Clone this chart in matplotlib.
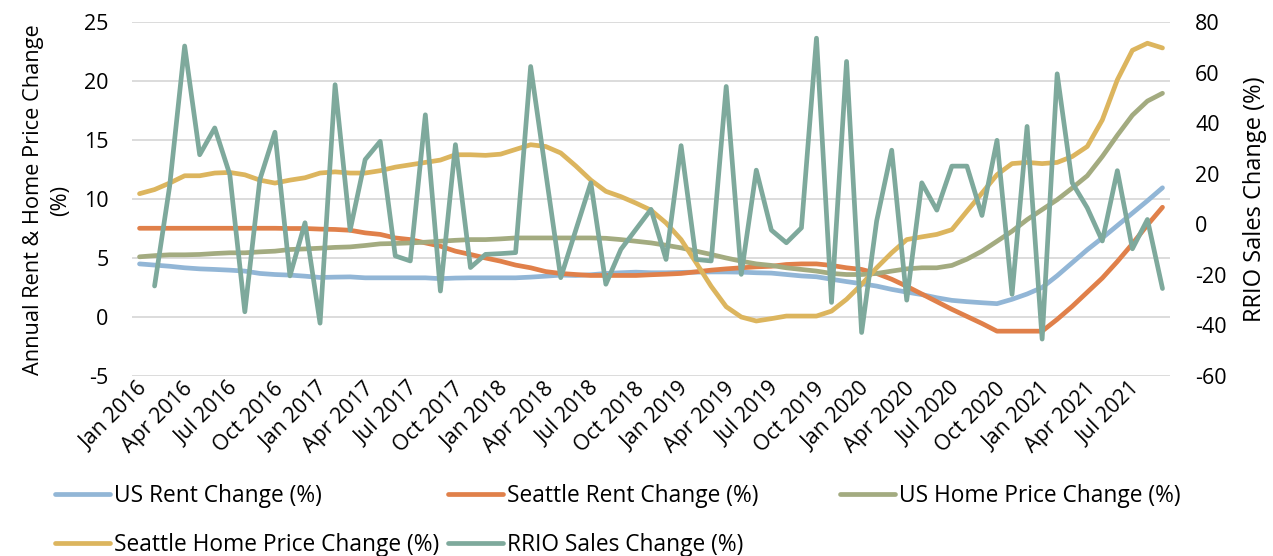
import numpy as np
import matplotlib.pyplot as plt
from matplotlib.transforms import ScaledTranslation

plt.rcParams['font.family'] = ['Open Sans', 'DejaVu Sans']
plt.rcParams['axes.unicode_minus'] = False

month_names = ['Jan', 'Feb', 'Mar', 'Apr', 'May', 'Jun',
               'Jul', 'Aug', 'Sep', 'Oct', 'Nov', 'Dec']
# Jan 2016 .. Sep 2021, monthly
dates = ['%s %d' % (m, y) for y in range(2016, 2022) for m in month_names][:69]

us_rent = [4.5, 4.4, 4.3, 4.17, 4.08, 4.03, 3.97, 3.89, 3.69, 3.6, 3.55, 3.46,
           3.35, 3.38, 3.4, 3.32, 3.32, 3.32, 3.32, 3.32, 3.25, 3.3, 3.32, 3.32,
           3.32, 3.32, 3.38, 3.46, 3.55, 3.52, 3.58, 3.69, 3.75, 3.8, 3.75, 3.75,
           3.78, 3.8, 3.82, 3.82, 3.8, 3.75, 3.72, 3.6, 3.48, 3.41, 3.2, 3.0,
           2.82, 2.62, 2.34, 2.11, 1.9, 1.63, 1.41, 1.3, 1.21, 1.13, 1.5, 1.95,
           2.5, 3.5, 4.6, 5.7, 6.7, 7.75, 8.8, 9.85, 10.95]

seattle_rent = [7.52, 7.52, 7.52, 7.52, 7.52, 7.52, 7.52, 7.52, 7.52, 7.52, 7.5, 7.5,
                7.45, 7.42, 7.35, 7.13, 7.0, 6.7, 6.56, 6.28, 6.0, 5.58, 5.3, 5.0,
                4.73, 4.4, 4.17, 3.85, 3.69, 3.6, 3.52, 3.52, 3.52, 3.52, 3.58, 3.63,
                3.69, 3.83, 3.97, 4.08, 4.17, 4.25, 4.3, 4.45, 4.5, 4.5, 4.37, 4.17,
                4.03, 3.69, 3.2, 2.6, 1.95, 1.3, 0.65, 0.05, -0.55, -1.2, -1.2, -1.2,
                -1.2, -0.2, 0.9, 2.1, 3.3, 4.7, 6.2, 7.8, 9.3]

us_home = [5.1, 5.2, 5.27, 5.27, 5.3, 5.38, 5.44, 5.44, 5.52, 5.58, 5.72, 5.77,
           5.83, 5.9, 5.94, 6.06, 6.2, 6.23, 6.28, 6.34, 6.42, 6.5, 6.56, 6.56,
           6.62, 6.7, 6.7, 6.7, 6.7, 6.7, 6.7, 6.67, 6.56, 6.42, 6.28, 6.08,
           5.86, 5.58, 5.3, 5.0, 4.73, 4.5, 4.37, 4.17, 4.03, 3.89, 3.69, 3.6,
           3.6, 3.69, 3.89, 4.08, 4.17, 4.17, 4.37, 4.9, 5.58, 6.42, 7.27, 8.25,
           9.1, 9.94, 10.93, 11.97, 13.6, 15.4, 17.1, 18.3, 18.96]

seattle_home = [10.45, 10.8, 11.35, 11.97, 11.97, 12.2, 12.25, 12.05, 11.6, 11.35, 11.6, 11.8,
                12.2, 12.3, 12.2, 12.2, 12.4, 12.7, 12.9, 13.1, 13.3, 13.75, 13.75, 13.7,
                13.8, 14.2, 14.6, 14.45, 13.9, 12.8, 11.6, 10.65, 10.2, 9.65, 9.05, 7.97,
                6.56, 4.6, 2.6, 0.87, 0.0, -0.34, -0.14, 0.08, 0.08, 0.08, 0.5, 1.5,
                2.76, 4.17, 5.44, 6.56, 6.79, 7.0, 7.4, 8.96, 10.5, 12.06, 13.0, 13.1,
                13.0, 13.1, 13.6, 14.45, 16.7, 20.1, 22.6, 23.2, 22.8]

# no value for Jan 2016
rrio_sales = [np.nan, -24.4, 15.0, 70.5, 27.5, 38.1, 19.7, -34.6, 17.7, 36.4, -20.4, 0.6,
              -39.1, 55.2, -2.3, 25.6, 32.8, -12.5, -14.5, 43.3, -26.4, 31.5, -17.1, -11.9,
              -11.6, -11.2, 62.4, 20.6, -21.1, -2.3, 16.4, -23.7, -9.9, -2.0, 5.9, -13.9,
              31.1, -13.9, -14.5, 54.5, -19.8, 21.4, -2.3, -7.3, -1.4, 73.6, -30.9, 64.4,
              -42.8, 1.3, 29.3, -30.0, 16.4, 5.6, 23.0, 23.0, 3.5, 33.2, -27.7, 38.7,
              -45.4, 59.5, 16.4, 6.5, -6.6, 21.2, -9.7, 1.9, -25.4]

W, H = 1273, 556
fig = plt.figure(figsize=(W / 100, H / 100), dpi=100)
ax = fig.add_axes([132 / W, 1 - 376 / H, 1038 / W, 354 / H])
x = np.arange(len(dates))

lw = 3.4
l1, = ax.plot(x, us_rent, color='#92b6d6', lw=lw, solid_capstyle='round', label='US Rent Change (%)')
l2, = ax.plot(x, seattle_rent, color='#e0804a', lw=lw, solid_capstyle='round', label='Seattle Rent Change (%)')
l3, = ax.plot(x, us_home, color='#a3ab80', lw=lw, solid_capstyle='round', label='US Home Price Change (%)')
l4, = ax.plot(x, seattle_home, color='#dcb55e', lw=lw, solid_capstyle='round', label='Seattle Home Price Change (%)')

ax2 = ax.twinx()
l5, = ax2.plot(x, rrio_sales, color='#7ea99c', lw=lw, solid_capstyle='round',
               solid_joinstyle='round', label='RRIO Sales Change (%)')

ax.set_xlim(-0.5, len(dates) - 0.5)
ax.set_ylim(-5, 25)
ax.set_yticks(range(-5, 26, 5))
ax2.set_ylim(-60, 80)
ax2.set_yticks(range(-60, 81, 20))
ax.grid(axis='y', color='#d9d9d9', lw=1.3)
ax.set_axisbelow(True)
for a in (ax, ax2):
    for s in a.spines.values():
        s.set_visible(False)

ax.tick_params(axis='y', length=0, labelsize=15.5, pad=17)
ax2.tick_params(axis='y', length=0, labelsize=15.5, pad=18)
ax.tick_params(axis='x', length=0, labelsize=15.5, pad=7)
ax.set_xticks(x[::3])
ax.set_xticklabels(dates[::3], rotation=45, ha='right', va='center', rotation_mode='anchor')
off = ScaledTranslation(5 / 100, 0, fig.dpi_scale_trans)
for lab in ax.get_xticklabels():
    lab.set_transform(lab.get_transform() + off)

fig.text(47 / W, 1 - 200 / H, 'Annual Rent & Home Price Change\n(%)', rotation=90,
         ha='center', va='center', multialignment='center', fontsize=15.7, linespacing=1.35)
fig.text(1255 / W, 1 - 199 / H, 'RRIO Sales Change (%)', rotation=90,
         ha='center', va='center', fontsize=17)

# legend laid out in three columns like the original
cols = [([l1, l4], 55), ([l2, l5], 448), ([l3], 840)]
for handles, xpx in cols:
    fig.legend(handles, [h.get_label() for h in handles], loc='upper left',
               bbox_to_anchor=(xpx / W, 1 - 484 / H), frameon=False, fontsize=16.4,
               handlelength=2.4, handletextpad=0.18, borderpad=0, borderaxespad=0,
               labelspacing=1.1)

plt.savefig('out.png', dpi=100)
